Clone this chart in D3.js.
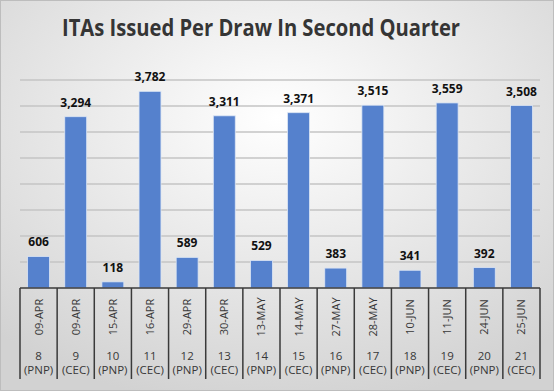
<!DOCTYPE html>
<html>
<head>
<meta charset="utf-8">
<script src="https://cdn.jsdelivr.net/npm/d3@7"></script>
<style>
  body { margin: 0; background: #fff; }
  svg { display: block; }
</style>
</head>
<body>
<div class="chart"></div>
<script>
// data
const dates  = ["09-APR","09-APR","15-APR","16-APR","29-APR","30-APR","13-MAY","14-MAY","27-MAY","28-MAY","10-JUN","11-JUN","24-JUN","25-JUN"];
const draws  = ["8","9","10","11","12","13","14","15","16","17","18","19","20","21"];
const progs  = ["PNP","CEC","PNP","CEC","PNP","CEC","PNP","CEC","PNP","CEC","PNP","CEC","PNP","CEC"];
const itas   = [606, 3294, 118, 3782, 589, 3311, 529, 3371, 383, 3515, 341, 3559, 392, 3508];
const yTicks = [500, 1000, 1500, 2000, 2500, 3000, 3500, 4000];

const W = 554, H = 391;
const plotLeft = 20, plotRight = 540, plotTop = 80, base = 288;
const fmt = d3.format(",");

var svg = d3.select(".chart").append("svg")
    .attr("width", W)
    .attr("height", H);

// background gradient, light in the middle top, grey at the edges
var defs = svg.append("defs");
var grad = defs.append("radialGradient")
    .attr("id", "bg")
    .attr("cx", "50%").attr("cy", "30%").attr("r", "75%");
grad.append("stop").attr("offset", "0%").attr("stop-color", "#ffffff");
grad.append("stop").attr("offset", "100%").attr("stop-color", "#d2d2d2");

svg.append("rect")
    .attr("x", 0.5).attr("y", 0.5)
    .attr("width", W - 1).attr("height", H - 1)
    .attr("fill", "url(#bg)")
    .attr("stroke", "#bdbdbd");

svg.append("text") // title, squeezed to the width of the original
    .attr("x", 261)
    .attr("y", 36)
    .attr("text-anchor", "middle")
    .attr("font-family", "'Open Sans', sans-serif")
    .attr("font-weight", 700)
    .attr("font-size", 24)
    .attr("textLength", 398)
    .attr("lengthAdjust", "spacingAndGlyphs")
    .attr("fill", "#353535")
    .text("ITAs Issued Per Draw In Second Quarter");

var xScale = d3.scaleBand()
    .domain(d3.range(itas.length))
    .range([plotLeft, plotRight])
    .paddingInner(0.41)
    .paddingOuter(0.205);

var yScale = d3.scaleLinear()
    .domain([0, 4000])
    .range([base, plotTop]);

// grid lines
svg.selectAll(".grid")
    .data(yTicks)
    .enter()
    .append("line")
    .attr("class", "grid")
    .attr("x1", plotLeft)
    .attr("x2", plotRight)
    .attr("y1", d => yScale(d))
    .attr("y2", d => yScale(d))
    .attr("stroke", "#c4c4c4")
    .attr("stroke-width", 1.5);

// bars
svg.selectAll(".bar")
    .data(itas)
    .enter()
    .append("rect")
    .attr("class", "bar")
    .attr("x", (d, i) => xScale(i))
    .attr("y", d => yScale(d))
    .attr("width", xScale.bandwidth())
    .attr("height", d => base - yScale(d))
    .attr("fill", "#5581cd")
    .attr("stroke", "#dbe5f4")
    .attr("stroke-width", 0.8);

// value labels
svg.selectAll(".val")
    .data(itas)
    .enter()
    .append("text")
    .attr("class", "val")
    .attr("x", (d, i) => xScale(i) + xScale.bandwidth() / 2)
    .attr("y", d => yScale(d) - 10)
    .attr("text-anchor", "middle")
    .attr("font-family", "'Open Sans', sans-serif")
    .attr("font-weight", 700)
    .attr("font-size", 12)
    .attr("fill", "#111")
    .text(d => fmt(d));

// category axis: baseline and separators
var step = xScale.step();
svg.append("line")
    .attr("x1", plotLeft).attr("x2", plotRight)
    .attr("y1", base).attr("y2", base)
    .attr("stroke", "#3a3a3a")
    .attr("stroke-width", 1.5);

svg.selectAll(".sep")
    .data(d3.range(itas.length + 1))
    .enter()
    .append("line")
    .attr("class", "sep")
    .attr("x1", i => plotLeft + i * step)
    .attr("x2", i => plotLeft + i * step)
    .attr("y1", base)
    .attr("y2", 379)
    .attr("stroke", "#3a3a3a")
    .attr("stroke-width", 1.5);

var cx = i => xScale(i) + xScale.bandwidth() / 2;

svg.selectAll(".date")
    .data(dates)
    .enter()
    .append("text")
    .attr("class", "date")
    .attr("transform", (d, i) => `translate(${cx(i) + 4},317) rotate(-90)`)
    .attr("text-anchor", "middle")
    .attr("font-family", "'Open Sans', sans-serif")
    .attr("font-size", 11)
    .attr("fill", "#383838")
    .text(d => d);

svg.selectAll(".draw")
    .data(draws)
    .enter()
    .append("text")
    .attr("class", "draw")
    .attr("x", (d, i) => cx(i))
    .attr("y", 360)
    .attr("text-anchor", "middle")
    .attr("font-family", "'Open Sans', sans-serif")
    .attr("font-size", 11.5)
    .attr("fill", "#383838")
    .text(d => d);

svg.selectAll(".prog")
    .data(progs)
    .enter()
    .append("text")
    .attr("class", "prog")
    .attr("x", (d, i) => cx(i))
    .attr("y", 374)
    .attr("text-anchor", "middle")
    .attr("font-family", "'Open Sans', sans-serif")
    .attr("font-size", 11.5)
    .attr("fill", "#383838")
    .text(d => `(${d})`);
</script>
</body>
</html>
